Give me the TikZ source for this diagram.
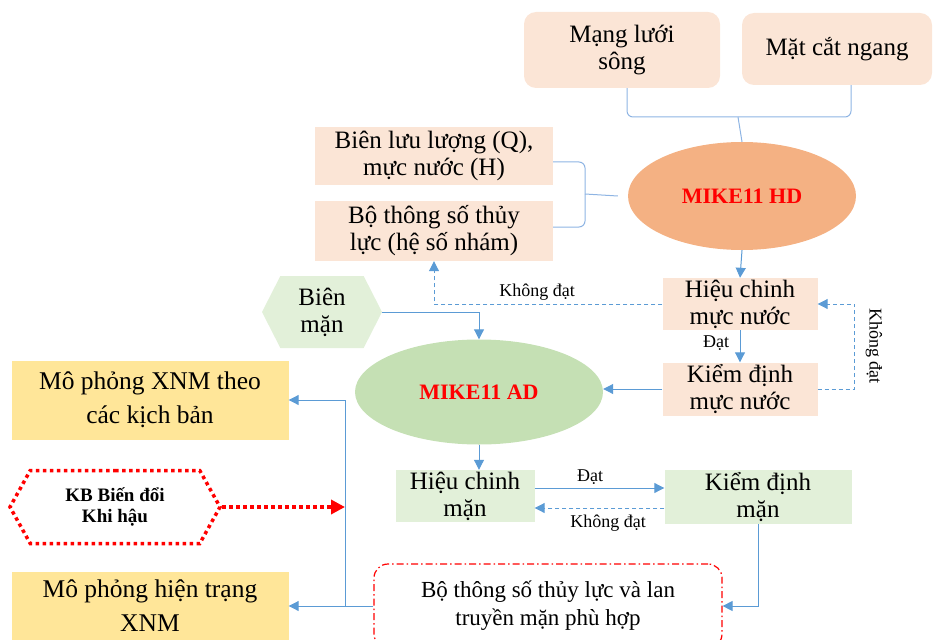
\documentclass[tikz,border=0pt]{standalone}
\usepackage{fontspec}
\setmainfont{Liberation Serif}
\usetikzlibrary{shapes.geometric,shapes.symbols,arrows.meta}
\definecolor{peach}{HTML}{FBE5D6}
\definecolor{salmon}{HTML}{F4B183}
\definecolor{leaf}{HTML}{C5E0B4}
\definecolor{mint}{HTML}{E2F0D9}
\definecolor{butter}{HTML}{FFE699}
\definecolor{lineblue}{HTML}{5B9BD5}
\definecolor{braceblue}{HTML}{8EB4E3}
\begin{document}
\begin{tikzpicture}[x=1pt,y=-1pt,
	txt/.style={font=\fontsize{25}{27}\selectfont, align=center, inner sep=0pt},
	txtwide/.style={font=\fontsize{25.5}{34}\selectfont, align=center, inner sep=0pt},
	lbl/.style={font=\fontsize{18}{20}\selectfont, inner sep=1pt},
	mike/.style={font=\fontsize{22}{24}\selectfont\bfseries, text=red, ellipse, inner sep=0pt},
	arr/.style={draw=lineblue, line width=1pt, -{Triangle[length=10pt,width=10pt]}},
	dasharr/.style={arr, dash pattern=on 4pt off 3pt},
	brace/.style={draw=braceblue, line width=1pt}]
	\useasboundingbox (0,0) rectangle (933,639) ;
		\node (mang)[txt, fill=peach, rounded corners=12pt, minimum width=196, minimum height=76] at (622,50) {Mạng lưới\\sông} ;
		\node (mat)[txt, fill=peach, rounded corners=12pt, minimum width=190, minimum height=72] at (837,49) {Mặt cắt ngang} ;
		\node (bien)[txt, fill=peach, minimum width=238, minimum height=58] at (434,156) {Biên lưu lượng (Q),\\mực nước (H)} ;
		\node (bothong)[txt, fill=peach, minimum width=238, minimum height=60] at (434,231) {Bộ thông số thủy\\lực (hệ số nhám)} ;
		\node (hd)[mike, fill=salmon, minimum width=228, minimum height=108] at (742,196) {MIKE11 HD} ;
		\node (hcmn)[txt, fill=peach, minimum width=155, minimum height=52] at (740,304) {Hiệu chinh\\mực nước} ;
		\node (kdmn)[txt, fill=peach, minimum width=155, minimum height=53] at (740,389) {Kiểm định\\mực nước} ;
		\node (bienman)[txt, fill=mint, signal, signal to=west and east, signal pointer angle=126, minimum width=120, minimum height=72] at (322,312) {Biên\\mặn} ;
		\node (ad)[mike, fill=leaf, minimum width=248, minimum height=105] at (479,392) {MIKE11 AD} ;
		\node (hcm)[txt, fill=mint, minimum width=139, minimum height=52] at (465,496) {Hiệu chinh\\mặn} ;
		\node (kdm)[txt, fill=mint, minimum width=187, minimum height=54] at (758,497) {Kiểm định\\mặn} ;
		\node (ketqua)[txt, font=\fontsize{23}{28}\selectfont, draw=red, line width=1.2pt, dash pattern=on 7pt off 3pt on 1.5pt off 3pt, rounded corners=14pt, minimum width=348, minimum height=84] at (548,606) {Bộ thông số thủy lực và lan\\truyền mặn phù hợp} ;
		\node (mpkb)[txtwide, fill=butter, minimum width=277, minimum height=79] at (150,400) {Mô phỏng XNM theo\\các kịch bản} ;
		\node (mpht)[txtwide, fill=butter, minimum width=277, minimum height=68] at (150,606) {Mô phỏng hiện trạng\\XNM} ;
		\node (kb)[signal, signal to=west and east, signal pointer angle=122, draw=red, line width=3.5pt, dash pattern=on 3.5pt off 3.5pt, fill=white, align=center, inner sep=0pt, font=\fontsize{19}{21}\selectfont\bfseries, minimum width=210, minimum height=73] at (115,507) {KB Biến đổi\\Khi hậu} ;
		\coordinate (tipA) at (738,117) ;
		\coordinate (tipB) at (585,194) ;
		\coordinate (split) at (345,606) ;
		\node (lb1)[lbl] at (537,292) {Không đạt} ;
		\node (lb2)[lbl, rotate=-90] at (874,346) {Không đạt} ;
		\node (lb3)[lbl] at (716,343) {Đạt} ;
		\node (lb4)[lbl] at (590,477) {Đạt} ;
		\node (lb5)[lbl] at (608,523) {Không đạt} ;
	\draw[brace, rounded corners=6pt] ([xshift=5pt]mang.south) |- (tipA) -| ([xshift=14pt]mat.south) ;
	\draw[brace] (tipA) -- (hd.north) ;
	\draw[brace, rounded corners=6pt] ([yshift=-6pt]bien.east) -| (tipB) |- ([yshift=4pt]bothong.east) ;
	\draw[brace] (tipB) -- ([xshift=-10pt]hd.west) ;
	\draw[arr] (hd.south) -- (hcmn.north) ;
	\draw[arr] (hcmn.south) -- (kdmn.north) ;
	\draw[dasharr] (kdmn.east) -- ++(37,0) |- (hcmn.east) ;
	\draw[dasharr] (hcmn.west) -| (bothong.south) ;
	\draw[arr] (bienman.east) -| (ad.north) ;
	\draw[arr] (kdmn.west) -- (kdmn.west -| ad.east) ;
	\draw[arr] (ad.south) -- (ad.south |- hcm.north) ;
	\draw[arr] ([yshift=8pt]hcm.east) -- ([yshift=8pt]hcm.east -| kdm.west) ;
	\draw[dasharr] ([yshift=-11pt]kdm.west) -- ([yshift=-11pt]kdm.west -| hcm.east) ;
	\draw[arr] (kdm.south) |- (ketqua.east) ;
	\draw[arr] (ketqua.west) -- (ketqua.west -| mpht.east) ;
	\draw[arr] (split) |- (mpkb.east) ;
	\draw[red, line width=3.5pt, dash pattern=on 3.5pt off 3.5pt, -{Triangle[length=14pt,width=14pt]}] (kb.east) -- (kb.east -| split) ;
\end{tikzpicture}
\end{document}
